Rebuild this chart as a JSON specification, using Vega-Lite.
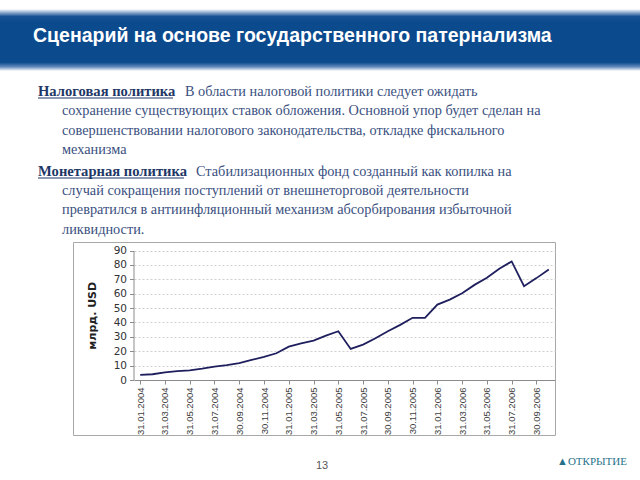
{
  "$schema": "https://vega.github.io/schema/vega-lite/v6.json",
  "width": 482,
  "height": 193,
  "autosize": {"type": "none"},
  "padding": {"left": 73, "top": 242, "right": 85, "bottom": 45},
  "background": "white",
  "config": {"view": {"stroke": "#a8a8a8", "strokeWidth": 1}},
  "resolve": {"scale": {"x": "independent", "y": "independent"}},
  "layer": [
    {
      "data": {"values": [{"part": "header"}]},
      "mark": {
        "type": "rect",
        "fill": {
          "gradient": "linear", "x1": 0, "y1": 0, "x2": 0, "y2": 1,
          "stops": [
            {"offset": 0, "color": "#ffffff"},
            {"offset": 0.05, "color": "#9fb6d6"},
            {"offset": 0.12, "color": "#1a5194"},
            {"offset": 0.2, "color": "#0c4a8e"},
            {"offset": 0.86, "color": "#0c4a8e"},
            {"offset": 0.93, "color": "#5f86b8"},
            {"offset": 1, "color": "#ffffff"}
          ]
        }
      },
      "encoding": {
        "x": {"datum": 0, "type": "quantitative", "scale": {"domain": [0, 1], "range": [-73, 567]}, "axis": null},
        "x2": {"datum": 1},
        "y": {"datum": 0, "type": "quantitative", "scale": {"domain": [0, 1], "range": [-233, -171]}, "axis": null},
        "y2": {"datum": 1}
      }
    },
    {
      "data": {"values": [{"text": "Сценарий на основе государственного патернализма"}]},
      "mark": {"type": "text", "align": "left", "baseline": "alphabetic", "font": "Liberation Sans", "fontSize": 19.5, "fontWeight": "bold", "color": "#ffffff"},
      "encoding": {
        "text": {"field": "text"},
        "x": {"datum": 0, "type": "quantitative", "scale": {"domain": [0, 1], "range": [-40, 0]}, "axis": null},
        "y": {"datum": 0, "type": "quantitative", "scale": {"domain": [0, 1], "range": [-200, 0]}, "axis": null}
      }
    },
    {
      "data": {"values": [
        {"line": 1, "text": "Налоговая политика"},
        {"line": 5, "text": "Монетарная политика"}
      ]},
      "mark": {"type": "text", "align": "left", "baseline": "alphabetic", "font": "Liberation Serif", "fontSize": 14.6, "fontWeight": "bold", "color": "#1e3766"},
      "encoding": {
        "text": {"field": "text"},
        "x": {"datum": 0, "type": "quantitative", "scale": {"domain": [0, 1], "range": [-35, -11]}, "axis": null},
        "y": {"field": "line", "type": "quantitative", "scale": {"domain": [1, 4, 5, 8], "range": [-146, -88, -66, -8.5], "nice": false, "zero": false}, "axis": null}
      }
    },
    {
      "data": {"values": [{"heading": "Налоговая политика"}]},
      "mark": {"type": "rule", "color": "#1e3766", "strokeWidth": 1},
      "encoding": {
        "x": {"datum": 0, "type": "quantitative", "scale": {"domain": [0, 1], "range": [-35, 100]}, "axis": null},
        "x2": {"datum": 1},
        "y": {"datum": 0, "type": "quantitative", "scale": {"domain": [0, 1], "range": [-144, 0]}, "axis": null}
      }
    },
    {
      "data": {"values": [{"heading": "Монетарная политика"}]},
      "mark": {"type": "rule", "color": "#1e3766", "strokeWidth": 1},
      "encoding": {
        "x": {"datum": 0, "type": "quantitative", "scale": {"domain": [0, 1], "range": [-35, 111]}, "axis": null},
        "x2": {"datum": 1},
        "y": {"datum": 0, "type": "quantitative", "scale": {"domain": [0, 1], "range": [-64, 0]}, "axis": null}
      }
    },
    {
      "data": {"values": [
        {"line": 1, "text": "В области налоговой политики следует ожидать"},
        {"line": 5, "text": "Стабилизационных фонд созданный как копилка на"}
      ]},
      "mark": {"type": "text", "align": "left", "baseline": "alphabetic", "font": "Liberation Serif", "fontSize": 14.3, "color": "#3a5080"},
      "encoding": {
        "text": {"field": "text"},
        "x": {"field": "line", "type": "quantitative", "scale": {"domain": [1, 5], "range": [112, 123], "nice": false, "zero": false}, "axis": null},
        "y": {"field": "line", "type": "quantitative", "scale": {"domain": [1, 4, 5, 8], "range": [-146, -88, -66, -8.5], "nice": false, "zero": false}, "axis": null}
      }
    },
    {
      "data": {"values": [
        {"line": 2, "text": "сохранение существующих ставок обложения. Основной упор будет сделан на"},
        {"line": 3, "text": "совершенствовании налогового законодательства, откладке фискального"},
        {"line": 4, "text": "механизма"},
        {"line": 6, "text": "случай сокращения поступлений от внешнеторговой деятельности"},
        {"line": 7, "text": "превратился в антиинфляционный механизм абсорбирования избыточной"},
        {"line": 8, "text": "ликвидности."}
      ]},
      "mark": {"type": "text", "align": "left", "baseline": "alphabetic", "font": "Liberation Serif", "fontSize": 14.3, "color": "#3a5080"},
      "encoding": {
        "text": {"field": "text"},
        "x": {"datum": 1, "type": "quantitative", "scale": {"domain": [0, 1], "range": [-35, -11]}, "axis": null},
        "y": {"field": "line", "type": "quantitative", "scale": {"domain": [1, 4, 5, 8], "range": [-146, -88, -66, -8.5], "nice": false, "zero": false}, "axis": null}
      }
    },
    {
      "data": {"values": [
        {"date": "31.01.2004", "value": 3.5}, {"date": "29.02.2004", "value": 4.0}, {"date": "31.03.2004", "value": 5.3},
        {"date": "30.04.2004", "value": 6.2}, {"date": "31.05.2004", "value": 6.7}, {"date": "30.06.2004", "value": 7.9},
        {"date": "31.07.2004", "value": 9.3}, {"date": "31.08.2004", "value": 10.4}, {"date": "30.09.2004", "value": 11.8},
        {"date": "31.10.2004", "value": 13.9}, {"date": "30.11.2004", "value": 16.0}, {"date": "31.12.2004", "value": 18.6},
        {"date": "31.01.2005", "value": 23.2}, {"date": "28.02.2005", "value": 25.5}, {"date": "31.03.2005", "value": 27.4},
        {"date": "30.04.2005", "value": 30.8}, {"date": "31.05.2005", "value": 33.9}, {"date": "30.06.2005", "value": 21.6},
        {"date": "31.07.2005", "value": 24.6}, {"date": "31.08.2005", "value": 29.0}, {"date": "30.09.2005", "value": 33.9},
        {"date": "31.10.2005", "value": 38.3}, {"date": "30.11.2005", "value": 43.2}, {"date": "31.12.2005", "value": 43.2},
        {"date": "31.01.2006", "value": 52.4}, {"date": "28.02.2006", "value": 55.9}, {"date": "31.03.2006", "value": 60.3},
        {"date": "30.04.2006", "value": 66.1}, {"date": "31.05.2006", "value": 71.0}, {"date": "30.06.2006", "value": 77.3},
        {"date": "31.07.2006", "value": 82.4}, {"date": "31.08.2006", "value": 65.2}, {"date": "30.09.2006", "value": 70.8},
        {"date": "31.10.2006", "value": 76.8}
      ]},
      "mark": {"type": "line", "color": "#1f1f5e", "strokeWidth": 1.8},
      "encoding": {
        "x": {
          "field": "date", "type": "ordinal", "sort": null,
          "scale": {"type": "point", "padding": 0.5, "range": [61, 482]},
          "axis": {
            "values": ["31.01.2004", "31.03.2004", "31.05.2004", "31.07.2004", "30.09.2004", "30.11.2004", "31.01.2005", "31.03.2005", "31.05.2005", "31.07.2005", "30.09.2005", "30.11.2005", "31.01.2006", "31.03.2006", "31.05.2006", "31.07.2006", "30.09.2006"],
            "offset": -55, "title": null, "grid": false,
            "labelAngle": -90, "labelFont": "Liberation Sans", "labelFontSize": 9.5, "labelColor": "#404040",
            "labelPadding": 3, "tickSize": 4, "tickColor": "#8c8c8c", "domainColor": "#8c8c8c", "labelOverlap": false
          }
        },
        "y": {
          "field": "value", "type": "quantitative",
          "scale": {"domain": [0, 90], "range": [138, 8.5], "nice": false, "zero": false},
          "axis": {
            "values": [0, 10, 20, 30, 40, 50, 60, 70, 80, 90],
            "offset": -60.5, "grid": true, "gridColor": "#d0d0d0", "gridDash": [2, 2],
            "labelFont": "DejaVu Sans", "labelFontSize": 10.5, "labelColor": "#333333", "labelFlush": false, "labelOverlap": false,
            "labelPadding": 3, "tickSize": 4, "tickColor": "#8c8c8c", "domainColor": "#8c8c8c",
            "title": "млрд. USD", "titleFont": "DejaVu Sans", "titleFontSize": 11, "titleFontWeight": "bold", "titleColor": "#222222", "titlePadding": 16
          }
        }
      }
    },
    {
      "data": {"values": [{"text": "13"}]},
      "mark": {"type": "text", "align": "center", "baseline": "alphabetic", "font": "Liberation Sans", "fontSize": 11, "color": "#595959"},
      "encoding": {
        "text": {"field": "text"},
        "x": {"datum": 0, "type": "quantitative", "scale": {"domain": [0, 1], "range": [249, 0]}, "axis": null},
        "y": {"datum": 0, "type": "quantitative", "scale": {"domain": [0, 1], "range": [226.5, 0]}, "axis": null}
      }
    },
    {
      "data": {"values": [{"text": "▲ОТКРЫТИЕ"}]},
      "mark": {"type": "text", "align": "left", "baseline": "alphabetic", "font": "Liberation Serif", "fontSize": 11, "color": "#26718a"},
      "encoding": {
        "text": {"field": "text"},
        "x": {"datum": 0, "type": "quantitative", "scale": {"domain": [0, 1], "range": [484, 0]}, "axis": null},
        "y": {"datum": 0, "type": "quantitative", "scale": {"domain": [0, 1], "range": [223, 0]}, "axis": null}
      }
    }
  ]
}
